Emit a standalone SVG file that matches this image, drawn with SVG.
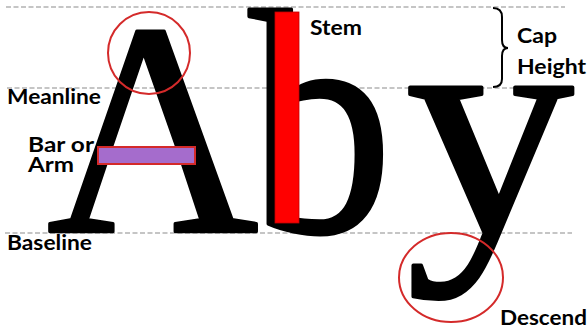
<svg xmlns="http://www.w3.org/2000/svg" width="588" height="327" viewBox="0 0 588 327">
<style>
.guide{stroke:#8c8c8c;stroke-width:1.2;stroke-dasharray:5 2.5;fill:none}
.glyph{font-family:"Liberation Serif","Times New Roman",serif;font-weight:normal;font-size:305px;fill:#000;stroke:#000;stroke-width:3.5;stroke-linejoin:round}
.lbl{font-family:"Lato","Open Sans",sans-serif;font-weight:bold;font-size:20px;fill:#000}
.ring{fill:none;stroke:#d42a2a;stroke-width:2}
</style>
<rect width="588" height="327" fill="#fff"/>
<g id="guides">
<line class="guide" x1="6" y1="7" x2="565" y2="7"/>
<line class="guide" x1="7" y1="88" x2="566" y2="88"/>
<line class="guide" x1="5" y1="233" x2="572" y2="233"/>
</g>
<g id="letters">
<text class="glyph" transform="translate(47,231.5) scale(0.96,0.995)">A</text>
<text class="glyph" transform="translate(249,231.5) scale(0.94,1.05)">b</text>
<text class="glyph" transform="translate(406,231.5) scale(1.1,1.03)">y</text>
</g>
<g id="stem">
<rect x="275" y="12" width="24" height="211" fill="#ff0000" stroke="#c00000" stroke-width="0.8"/>
<text class="lbl" x="310" y="35" textLength="52" lengthAdjust="spacingAndGlyphs">Stem</text>
</g>
<g id="apex">
<circle class="ring" cx="149" cy="53" r="41"/>
</g>
<g id="bar">
<rect x="98" y="147" width="97" height="17" fill="#a56ccc" stroke="#d42a2a" stroke-width="2"/>
<text class="lbl" x="28" y="152" textLength="66" lengthAdjust="spacingAndGlyphs">Bar or</text>
<text class="lbl" x="28" y="172" textLength="46" lengthAdjust="spacingAndGlyphs">Arm</text>
</g>
<g id="descender">
<ellipse class="ring" cx="451" cy="277.5" rx="52" ry="44.5"/>
<text class="lbl" x="500" y="325" textLength="87" lengthAdjust="spacingAndGlyphs">Descend</text>
</g>
<g id="capheight">
<path d="M493 8 Q502 8 502 17 L502 40 Q502 48 508 48 Q502 48 502 56 L502 79 Q502 87 493 87" fill="none" stroke="#000" stroke-width="2"/>
<text class="lbl" x="517" y="43" textLength="40" lengthAdjust="spacingAndGlyphs">Cap</text>
<text class="lbl" x="517" y="74" textLength="69" lengthAdjust="spacingAndGlyphs">Height</text>
</g>
<g id="labels">
<text class="lbl" x="7" y="104" textLength="94" lengthAdjust="spacingAndGlyphs">Meanline</text>
<text class="lbl" x="7" y="250" textLength="85" lengthAdjust="spacingAndGlyphs">Baseline</text>
</g>
</svg>
